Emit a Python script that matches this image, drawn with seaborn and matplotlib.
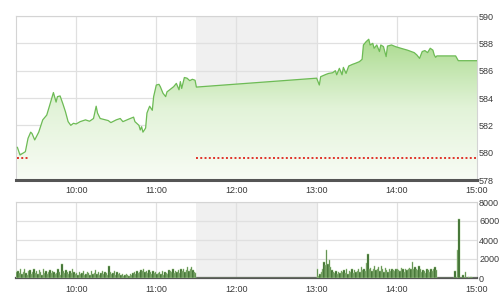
import numpy as np
import pandas as pd
import matplotlib
matplotlib.use("Agg")
import matplotlib.pyplot as plt
import seaborn as sns
from matplotlib.colors import LinearSegmentedColormap
from matplotlib.patches import Polygon

# ---------------- data ----------------
price_times = [
    "09:16", "09:18", "09:22", "09:24", "09:26", "09:27", "09:29", "09:32", "09:35", "09:38",
    "09:40", "09:43", "09:45", "09:46", "09:48", "09:50", "09:52", "09:54", "09:56", "09:58",
    "10:00", "10:03", "10:07", "10:10", "10:13", "10:15", "10:16", "10:18", "10:22", "10:24",
    "10:26", "10:30", "10:33", "10:35", "10:39", "10:43", "10:44", "10:47", "10:48", "10:49",
    "10:50", "10:52", "10:53", "10:55", "10:57", "10:58", "11:00", "11:02", "11:03", "11:05",
    "11:07", "11:08", "11:10", "11:13", "11:15", "11:17", "11:18", "11:19", "11:21", "11:23",
    "11:25", "11:27", "11:29", "11:30",
    "13:00", "13:02", "13:03", "13:07", "13:09", "13:12", "13:14", "13:15", "13:17", "13:19",
    "13:20", "13:22", "13:24", "13:27", "13:29", "13:32", "13:34", "13:35", "13:37", "13:39",
    "13:40", "13:42", "13:43", "13:45", "13:47", "13:48", "13:50", "13:52", "13:53", "13:56",
    "13:59", "14:03", "14:08", "14:13", "14:15", "14:17", "14:19", "14:21", "14:23", "14:25",
    "14:27", "14:28", "14:29", "14:30", "14:44", "14:46", "15:00",
]
price_values = [
    580.40, 579.83, 580.07, 581.05, 581.50, 581.40, 580.93, 581.50, 582.40, 582.75,
    583.40, 584.40, 583.70, 584.10, 584.15, 583.60, 583.00, 582.27, 582.00, 582.15,
    582.10, 582.27, 582.40, 582.30, 582.50, 583.40, 582.90, 582.50, 582.40, 582.35,
    582.20, 582.40, 582.50, 582.27, 582.44, 582.60, 582.27, 582.00, 581.66, 581.90,
    581.50, 581.80, 582.90, 583.40, 583.10, 584.10, 584.95, 585.00, 584.83, 584.35,
    584.10, 584.45, 584.60, 584.83, 585.07, 584.60, 585.20, 584.70, 585.50, 585.45,
    585.27, 585.37, 585.30, 584.80,
    585.45, 584.95, 585.56, 585.73, 585.80, 585.85, 586.00, 585.70, 586.17, 585.70,
    586.24, 585.80, 586.34, 586.47, 586.54, 586.66, 586.83, 587.88, 588.12, 588.30,
    587.88, 588.00, 587.64, 587.88, 587.40, 587.88, 587.76, 587.03, 587.80, 587.88,
    587.76, 587.64, 587.50, 587.32, 587.15, 586.90, 587.40, 587.47, 587.32, 587.64,
    587.50, 587.15, 586.98, 587.08, 587.08, 586.73, 586.73,
]
reference_price = 579.6

vol_morning_start = "09:15"
vol_morning = [
    600, 700, 500, 900, 400, 600, 1000, 500, 300, 700, 800, 400, 600, 900, 500,
    700, 400, 800, 600, 300, 900, 500, 700, 400, 600, 800, 500, 700, 600, 400,
    500, 900, 600, 300, 1500, 700, 500, 800, 600, 400, 700, 500, 900, 600, 400,
    500, 300, 600, 400, 500, 700, 300, 400, 600, 500, 300, 700, 400, 500, 800,
    400, 600, 300, 500, 700, 400, 600, 500, 300, 1250, 600, 400, 500, 700, 300,
    600, 400, 500, 300, 400, 200, 300, 400, 300, 200, 400, 300, 500, 600, 400,
    700, 500, 600, 800, 700, 900, 600, 700, 500, 800, 600, 400, 700, 500, 600,
    400, 500, 600, 400, 700, 300, 600, 500, 400, 800, 700, 600, 900, 500, 700,
    600, 800, 500, 900, 700, 1000, 600, 800, 1200, 700, 900, 1200, 800, 600, 500,
]
vol_afternoon_start = "13:00"
vol_afternoon = [
    1000, 200, 400, 600, 900, 1700, 1400, 3000, 1500, 1900, 1200, 800, 600, 500, 700,
    400, 600, 500, 700, 600, 800, 500, 900, 400, 700, 600, 1000, 500, 800, 600,
    700, 900, 600, 1200, 800, 1000, 700, 1600, 2500, 900, 1100, 700, 900, 1300, 800,
    1000, 1200, 700, 1300, 900, 600, 1100, 800, 600, 900, 700, 1000, 800, 700, 900,
    1000, 800, 700, 1100, 900, 600, 1000, 800, 900, 1100, 1000, 1700, 900, 1200, 1000,
    800, 1300, 900, 600, 800, 700, 500, 900, 800, 600, 1000, 700, 900, 1200, 800,
]
vol_late_times = ["14:43", "14:45", "14:46", "14:49", "14:51", "14:53", "14:55"]
vol_late = [700, 3000, 6200, 300, 600, 150, 150]

x_tick_labels = ["10:00", "11:00", "12:00", "13:00", "14:00", "15:00"]
price_ticks = [578, 580, 582, 584, 586, 588, 590]
vol_ticks = [0, 2000, 4000, 6000, 8000]
break_start, break_end = "11:30", "13:00"
axis_start, axis_end = "09:15", "15:00"


def to_min(s):
    h, m = s.split(":")
    return int(h) * 60 + int(m)


price_df = pd.DataFrame({"t": [to_min(s) for s in price_times], "price": price_values})
vol_t = (list(range(to_min(vol_morning_start), to_min(vol_morning_start) + len(vol_morning)))
         + list(range(to_min(vol_afternoon_start), to_min(vol_afternoon_start) + len(vol_afternoon)))
         + [to_min(s) for s in vol_late_times])
vol_df = pd.DataFrame({"t": vol_t, "vol": vol_morning + vol_afternoon + vol_late})

# ---------------- style ----------------
sns.set_style("white")
plt.rcParams["font.family"] = ["Liberation Sans", "DejaVu Sans"]

fig = plt.figure(figsize=(5.01, 3.0), dpi=100)
ax1 = fig.add_axes([16 / 501, 120 / 300, 461 / 501, 164 / 300])
ax2 = fig.add_axes([16 / 501, 22 / 300, 461 / 501, 76 / 300])

x0, x1 = to_min(axis_start), to_min(axis_end)
bs, be = to_min(break_start), to_min(break_end)
xt = [to_min(s) for s in x_tick_labels]
grid_c = "#e0e0e0"
txt_c = "#3a3a3a"

for ax in (ax1, ax2):
    ax.set_xlim(x0, x1)
    ax.axvspan(bs, be, color="#f0f0f0", zorder=0, lw=0)
    ax.set_xticks(xt)
    ax.set_xticklabels(x_tick_labels)
    ax.grid(True, color=grid_c, lw=0.9, zorder=0.5)
    ax.set_axisbelow(True)
    ax.yaxis.tick_right()
    ax.tick_params(axis="both", length=0, labelsize=6.5, colors=txt_c)
    for s in ("left", "top", "right"):
        ax.spines[s].set_color("#d4d4d4")
        ax.spines[s].set_linewidth(0.8)
    ax.spines["bottom"].set_color("#555555")
    ax.set_xlabel("")
    ax.set_ylabel("")

# ---- price panel ----
ax1.set_ylim(578, 590)
ax1.set_yticks(price_ticks)
ax1.set_yticklabels([str(v) for v in price_ticks])
ax1.tick_params(axis="x", pad=4)
ax1.tick_params(axis="y", pad=1.5)
ax1.spines["bottom"].set_linewidth(2.2)

cmap = LinearSegmentedColormap.from_list("g", ["#f8fcf5", "#e2f3d8", "#a8da8b"])
grad = np.linspace(0, 1, 256).reshape(-1, 1)
im = ax1.imshow(grad, extent=[x0, x1, 578, 588.6], origin="lower", aspect="auto",
                cmap=cmap, zorder=1)
poly_x = list(price_df["t"]) + [price_df["t"].iloc[-1], price_df["t"].iloc[0]]
poly_y = list(price_df["price"]) + [578, 578]
poly = Polygon(np.column_stack([poly_x, poly_y]), closed=True, facecolor="none",
               edgecolor="none", transform=ax1.transData)
ax1.add_patch(poly)
im.set_clip_path(poly)

sns.lineplot(data=price_df, x="t", y="price", ax=ax1, color="#6dbb55", lw=0.9,
             zorder=3, estimator=None, sort=False)

ax1.plot([to_min("09:16"), to_min("09:25")], [reference_price] * 2, ls=(0, (1, 1.2)),
         color="#e0332a", lw=1.4, zorder=4)
ax1.plot([bs, x1], [reference_price] * 2, ls=(0, (1, 1.2)), color="#e0332a", lw=1.4,
         zorder=4)
ax1.set_xlim(x0, x1)
ax1.set_ylim(578, 590)
ax1.set_xlabel("")
ax1.set_ylabel("")

# ---- volume panel ----
sns.histplot(data=vol_df, x="t", weights="vol", binwidth=1, binrange=(x0, x1), ax=ax2,
             color="#2b5e1f", alpha=1.0, linewidth=0.35, edgecolor="#a3cc8f",
             shrink=1.0, zorder=3)
ax2.set_ylim(0, 8000)
ax2.set_yticks(vol_ticks)
ax2.set_yticklabels([str(v) for v in vol_ticks])
ax2.tick_params(axis="x", pad=5)
ax2.tick_params(axis="y", pad=1.5)
ax2.spines["bottom"].set_linewidth(1.6)
ax2.set_xlim(x0, x1)
ax2.set_xlabel("")
ax2.set_ylabel("")

fig.savefig("out.png", dpi=100)
